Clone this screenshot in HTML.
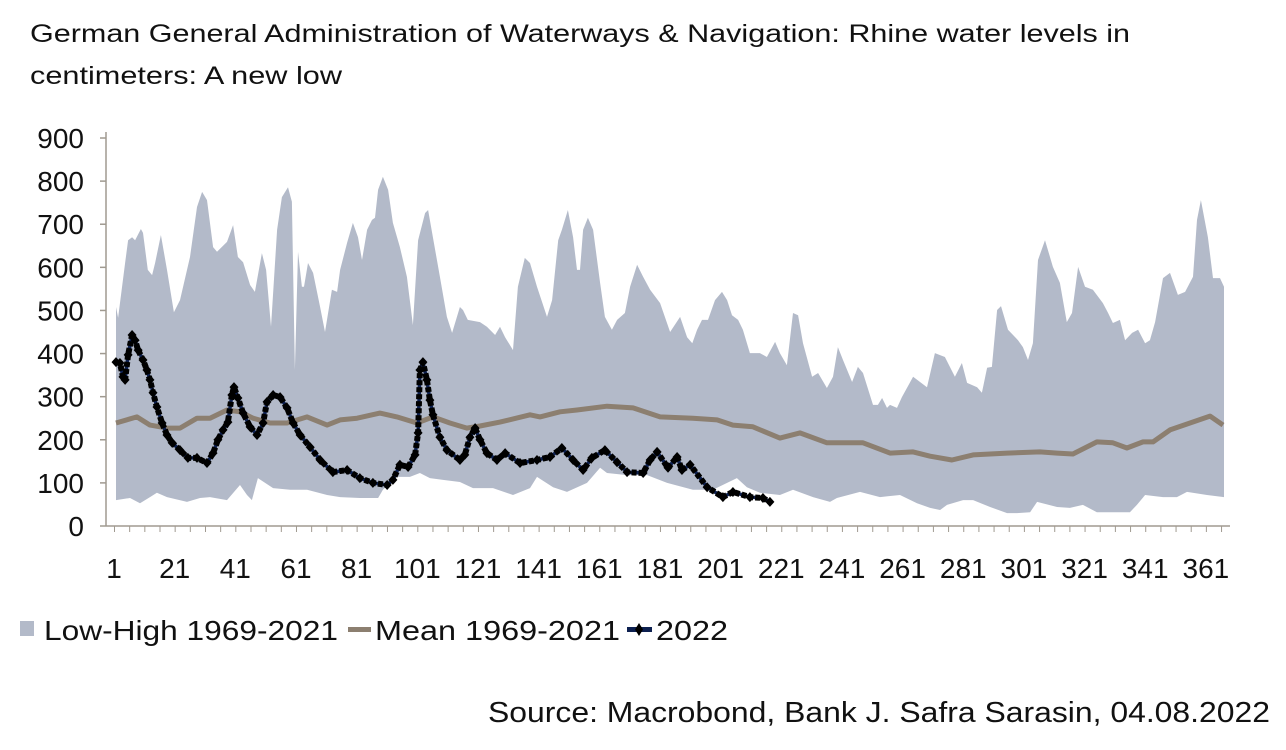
<!DOCTYPE html>
<html><head><meta charset="utf-8"><style>
html,body{margin:0;padding:0;background:#fff;width:1286px;height:750px;overflow:hidden}
svg{display:block}
text{font-family:"Liberation Sans Narrow","Liberation Sans",sans-serif;fill:#111}
.t{font-family:"Liberation Sans",sans-serif}
</style></head><body>
<svg id="chart" width="1286" height="750" viewBox="0 0 1286 750" xmlns="http://www.w3.org/2000/svg">
<text class="t" x="30" y="42" font-size="25" textLength="1100" lengthAdjust="spacingAndGlyphs">German General Administration of Waterways &amp; Navigation: Rhine water levels in</text>
<text class="t" x="30" y="84" font-size="25" textLength="312" lengthAdjust="spacingAndGlyphs">centimeters: A new low</text>
<g id="plot"></g>
<g id="axes"></g>
<g>
<rect x="20" y="621" width="14" height="15" fill="#b3bac9"/>
<text x="44" y="640" font-size="28" textLength="294" lengthAdjust="spacingAndGlyphs">Low-High 1969-2021</text>
<rect x="348" y="627" width="23" height="5" fill="#8c7f70"/>
<text x="375" y="640" font-size="28" textLength="245" lengthAdjust="spacingAndGlyphs">Mean 1969-2021</text>
<rect x="627" y="627" width="25" height="5" fill="#0d2050"/>
<path d="M639 623 L643 629.5 L639 636 L635 629.5 Z" fill="#000"/>
<text x="656" y="640" font-size="28" textLength="72" lengthAdjust="spacingAndGlyphs">2022</text>
</g>
<text x="1270" y="722" font-size="29" text-anchor="end" textLength="782" lengthAdjust="spacingAndGlyphs">Source: Macrobond, Bank J. Safra Sarasin, 04.08.2022</text>
</svg>
<script>
const highDays=[1,1.7,4,5,6.3,7.3,9.2,9.9,11.5,12.9,13.9,15.8,17.8,20.1,22.1,25.4,27.7,29.4,31,33,34.3,37.6,39.6,41.2,42.9,45.2,46.8,49.1,50.5,52.1,54.1,55.7,57.7,59,60,61,62.3,63,64.3,66,68.3,69.9,72.2,73.9,74.9,77.2,79.1,80.8,82.1,83.8,85.4,86.4,87.4,89,90.7,92.3,94.6,96.9,98.9,100.6,102.9,103.9,105.5,107.8,110.1,111.8,114.4,115.4,117,121,123.3,126,127.6,129.3,131.9,133.5,135.8,137.5,139.8,143.1,144.8,146.8,148,150,151.7,153,154,155,156.6,158.3,160.6,162.2,164.5,166.2,168.8,170.5,172.8,174.8,177.1,180.4,183.7,187,189.3,191,192.6,194.2,196.2,198.5,200.8,202.5,204.1,206.1,207.7,210,213.3,215.6,218.3,219.9,222.2,224.2,225.9,227.5,230.5,232.5,235.4,237.4,239,240.7,243.7,245.6,247.3,250.6,252.2,253.6,255.2,256.2,258.5,260.1,263.8,268.4,271,274.3,277.6,279.9,281.6,284.9,286.5,288.2,289.8,291.5,292.8,295.1,298.4,300,301.7,303.3,305,307.3,309.9,312.2,314.5,316.2,318.2,320.5,323.1,326.4,328.1,329.7,332,333.7,336,338,340.3,341.9,343.6,346.2,348.5,351.1,353.5,356.1,357.4,358.7,361,362.7,365,366.3];
const highVals=[508,483,610,663,670,663,689,680,594,582,610,675,594,496,524,624,740,775,756,647,636,659,698,624,612,559,543,633,594,462,687,763,786,752,362,636,555,555,610,587,508,450,548,543,594,657,703,670,617,687,710,715,780,810,780,703,647,578,466,663,726,733,670,578,485,448,508,501,478,473,462,443,462,438,408,555,622,610,555,485,524,663,687,733,670,594,594,687,715,687,564,485,455,478,494,555,606,578,548,517,450,485,438,424,455,478,478,524,543,524,489,478,455,401,401,392,427,401,373,494,489,424,346,355,320,346,415,385,334,369,355,281,281,297,274,281,274,299,346,322,401,392,346,378,332,322,309,367,369,501,510,455,431,415,385,424,617,663,601,564,473,494,601,555,548,517,494,471,478,431,448,455,424,431,473,575,587,536,543,578,710,756,670,575,575,555];
const lowDays=[1,5.6,8.9,12.2,14.5,17.8,24.4,28.7,32,37.6,41.9,44.2,45.8,47.8,52.8,58.4,64,70.6,74.9,81.4,87.4,89,93.6,97.9,101.2,104.5,108.8,114.4,118.7,125.3,131.9,137.5,139.8,145.1,149.7,156.3,160.6,162.9,169.5,176.1,182.7,191.2,197.8,202.5,205.7,209,213.3,219.9,224.2,230.8,236.4,238.7,246.3,252.9,259.5,265.1,269.4,272.7,275,280.3,283.6,289.2,294.8,298.1,302.4,304.7,311.3,315.5,319.8,324.4,335.3,337.6,340.3,346.2,350.8,354.1,360.7,366.3];
const lowVals=[60,65,53,67,77,67,56,65,67,60,95,72,60,111,88,84,84,72,67,65,65,84,114,114,123,111,107,102,88,88,72,88,114,90,79,100,135,123,118,118,100,84,84,100,111,90,77,72,84,67,56,65,79,67,72,53,42,37,49,60,60,44,30,30,32,56,44,42,49,32,32,49,72,67,67,79,72,67];
const meanDays=[1,7.9,12.2,17.8,22.1,27.7,32,37.6,41.9,46.2,51.8,57.4,64,70.6,74.9,80.5,88,93.6,100.2,105.5,111.1,116.7,121,127.6,137.5,140.8,147.4,153,162.9,171.5,180.4,191.2,199.2,204.4,211,219.9,226.5,235.4,247.3,256.2,263.8,269.4,276.6,283.6,294.8,305.6,311.3,316.5,324.4,329.7,334.3,339.6,342.9,348.5,355.1,361.7,366];
const meanVals=[239,253,234,227,227,250,250,269,265,250,239,239,253,234,246,250,262,253,239,253,239,227,232,241,258,253,265,269,278,274,253,250,246,234,230,204,216,193,193,169,172,162,153,165,169,172,169,167,195,193,181,195,195,223,239,255,234];
const y22Days=[1,2.3,3.3,4,5,6.3,7.3,8.3,9.9,11.2,12.2,13.2,14.5,16.2,17.8,19.5,22.1,24.7,27.7,31,33,34.6,36.3,37.9,39.2,39.9,41.2,42.9,45.2,47.5,49.5,50.8,52.8,55.1,57.4,59.4,61.7,65,68.3,72.5,77.2,81.4,85.7,90.4,92.3,94.6,97.3,99.6,100.6,101.2,102.2,103.5,104.5,105.5,107.8,110.1,114.4,116,117.7,119.4,121,123.3,126.6,129.3,134.2,139.8,144.1,148,151.7,155,157.9,162.2,166.2,169.5,174.8,177.1,179.4,183,186,187.6,190.3,195.9,201.1,204.4,210,214.3,216.6];
const y22Vals=[380,378,346,339,397,443,431,408,385,362,339,309,276,239,211,193,176,158,158,146,169,200,223,241,304,322,297,262,230,211,239,288,304,299,274,239,211,183,153,125,130,111,100,95,107,142,137,165,216,362,380,339,292,258,206,176,153,165,206,227,200,169,153,169,146,153,160,181,153,130,158,176,148,125,123,153,172,135,160,130,142,90,67,79,67,65,56];
const yTicks=[0,100,200,300,400,500,600,700,800,900];
const xTickLabels=[1,21,41,61,81,101,121,141,161,181,201,221,241,261,281,301,321,341,361];

const NS='http://www.w3.org/2000/svg';
const X0=116, XD=3.033, Y0=526, YK=0.4311;
const xs=d=>X0+(d-1)*XD;
const ys=v=>Y0-v*YK;
function mk(tag,attrs,parent){const e=document.createElementNS(NS,tag);for(const k in attrs)e.setAttribute(k,attrs[k]);parent.appendChild(e);return e;}
const plot=document.getElementById('plot');
const axes=document.getElementById('axes');

let d='M'+highDays.map((t,i)=>xs(t).toFixed(1)+' '+ys(highVals[i]).toFixed(1)).join(' L');
for(let i=lowDays.length-1;i>=0;i--) d+=' L'+xs(lowDays[i]).toFixed(1)+' '+ys(lowVals[i]).toFixed(1);
d+=' Z';
const band=mk('path',{d:d,fill:'#b3bac9'},plot);



const mean=mk('polyline',{points:meanDays.map((t,i)=>xs(t).toFixed(1)+','+ys(meanVals[i]).toFixed(1)).join(' '),fill:'none',stroke:'#8c7f70','stroke-width':5,'stroke-linejoin':'round'},plot);



const l22=mk('polyline',{points:y22Days.map((t,i)=>xs(t).toFixed(1)+','+ys(y22Vals[i]).toFixed(1)).join(' '),fill:'none',stroke:'#0d2050','stroke-width':3.5,'stroke-linejoin':'round'},plot);


const l22b=mk('polyline',{points:y22Days.map((t,i)=>xs(t).toFixed(1)+','+ys(y22Vals[i]).toFixed(1)).join(' '),fill:'none',stroke:'#000','stroke-width':6,'stroke-linejoin':'round','stroke-dasharray':'5 2'},plot);


y22Days.forEach((t,i)=>{
  const cx=xs(t), cy=ys(y22Vals[i]);
  const m=mk('path',{d:`M${cx} ${cy-5} L${cx+4.5} ${cy} L${cx} ${cy+5} L${cx-4.5} ${cy} Z`,fill:'#000'},plot);
  
  
});

const ya=mk('line',{x1:106,y1:132,x2:106,y2:Y0,stroke:'#a09a90','stroke-width':1.5},axes);


const xa=mk('line',{x1:106,y1:Y0,x2:1230,y2:Y0,stroke:'#a09a90','stroke-width':1.5},axes);


yTicks.forEach(v=>{
  const tk=mk('line',{x1:100,y1:ys(v),x2:106,y2:ys(v),stroke:'#a09a90','stroke-width':1.5},axes);
  
  
  const tx=mk('text',{x:84,y:ys(v)+10,'font-size':28,'text-anchor':'end'},axes);
  tx.textContent=v;
  
  
});
for(let dd=1; dd<=366; dd+=5){
  const tk=mk('line',{x1:xs(dd)-1.5,y1:Y0,x2:xs(dd)-1.5,y2:Y0+6,stroke:'#a09a90','stroke-width':1},axes);
  
  
}
xTickLabels.forEach(v=>{
  const tx=mk('text',{x:xs(v)-2,y:578,'font-size':28,'text-anchor':'middle'},axes);
  tx.textContent=v;
  
  
});
</script>
</body></html>
